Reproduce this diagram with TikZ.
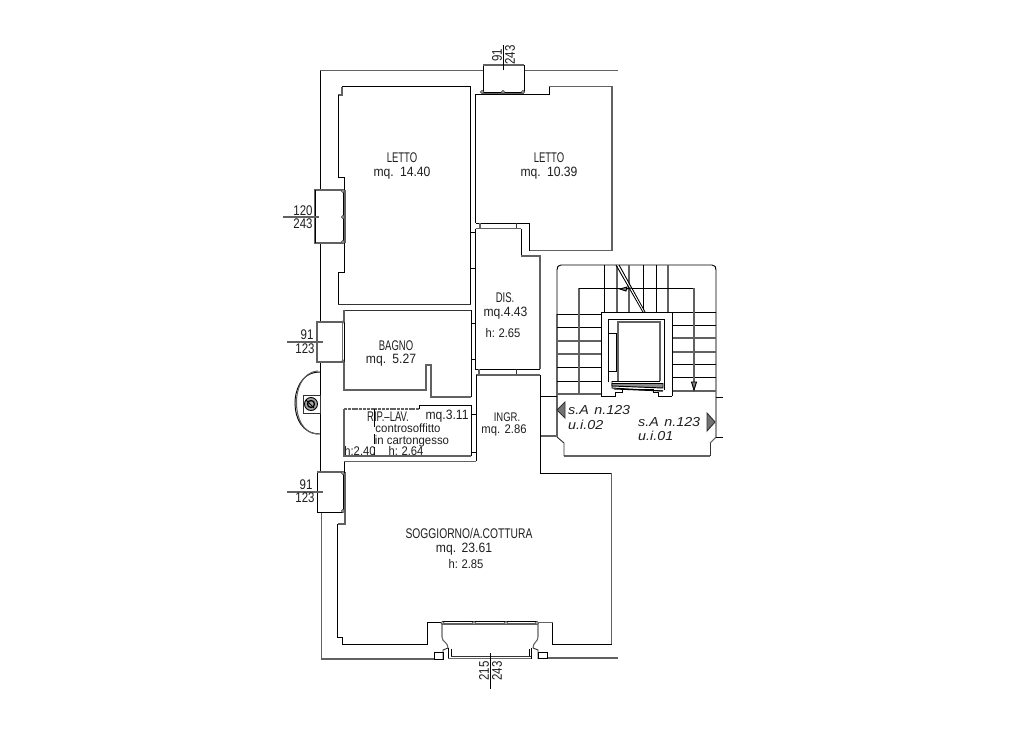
\documentclass[tikz,border=0pt]{standalone}
\usepackage{fontspec}
\setmainfont{Liberation Sans}
\tikzset{
  x=1pt,y=-1pt,
  wk/.style={draw=black,line width=.95pt,line join=miter},
  wg/.style={draw=black!62,line width=1.05pt,line join=miter},
  wm/.style={draw=black!80,line width=.95pt,line join=miter},
  thick wg/.style={draw=black!58,line width=1.9pt},
  hinge/.style={draw=black!70,fill=black!25,line width=.6pt},
  lab/.style={inner sep=0pt,text=black!88,font=\fontsize{14}{14}\selectfont,transform shape,xscale=.68},
  labi2/.style={inner sep=0pt,text=black!88,font=\fontsize{12.5}{12.5}\selectfont,transform shape,xscale=.76},
  labn/.style={inner sep=0pt,text=black!88,font=\fontsize{13.5}{13.5}\selectfont,transform shape,xscale=.9},
  labs/.style={inner sep=0pt,text=black!88,font=\fontsize{12.5}{12.5}\selectfont,transform shape,xscale=.9},
  labc/.style={inner sep=0pt,text=black!88,font=\fontsize{12}{12}\selectfont,transform shape,xscale=.95},
  labi/.style={inner sep=0pt,text=black!88,font=\fontsize{13}{13}\selectfont\itshape,transform shape,xscale=1.1,anchor=west},
  dimv/.style={inner sep=0pt,text=black!88,font=\fontsize{14}{14}\selectfont,transform shape,xscale=.82},
  dimr/.style={inner sep=0pt,text=black!88,font=\fontsize{14}{14}\selectfont,transform shape,rotate=90,xscale=.82},
}
\begin{document}
\begin{tikzpicture}
\useasboundingbox (0,0) rectangle (1030,736);
% outer walls
\draw[wg] (320,70.5) -- (483,70.5);
\draw[wg] (524,70.5) -- (618,70.5);
\draw[wk] (320,70.5) -- (320,190);
\draw[wk] (320,243) -- (320,322);
\draw[wk] (320.5,362) -- (320.5,472);
\draw[wg] (321.5,512) -- (321.5,659) -- (434,659);
\draw[wg] (547,658) -- (618,658);
% top window
\draw[wk] (483,92) -- (483,65) -- (524,65) -- (524,92);
\draw[wg] (483,65) -- (524,65);
\draw[wk] (482,92) -- (524,92);
\draw[wg] (482,93.5) -- (524,93.5);
\foreach \p in {(482,92),(503,92),(523,92)} \draw[hinge] \p circle (1.6);
% left windows
\draw[wg] (343,190) -- (315,190) -- (315,243) -- (343,243);
\draw[wk] (315.5,190) -- (315.5,243);
\draw[wk] (343,190) -- (343,243);
\draw[wg] (345,190) -- (345,243);
\foreach \p in {(343,191),(343,217),(343,242)} \draw[hinge] \p circle (1.6);
\draw[wg] (343,322) -- (317,322) -- (317,362) -- (343,362);
\draw[thick wg] (342.5,322) -- (342.5,362);
\draw[wk] (344.5,322) -- (344.5,362);
\foreach \p in {(343,322),(343,361)} \draw[hinge] \p circle (1.3);
\draw[wk] (343,472) -- (317,472) -- (317,512) -- (343,512);
\draw[wg] (317,472) -- (343,472);
\draw[wk] (343,472) -- (343,512);
\draw[wg] (345,472) -- (345,512);
\foreach \p in {(343,473),(343,511)} \draw[hinge] \p circle (1.6);
% LETTO 1
\draw[wk] (470.5,304) -- (470.5,86.5) -- (342,86.5);
\draw[wg] (342,86.5) -- (342,95) -- (338,95);
\draw[wk] (338,95) -- (338,177) -- (344,177) -- (344,190);
\draw[wk] (344,243) -- (344,272) -- (338,272) -- (338,304);
\draw[wm] (338,304) -- (470.5,304);
% LETTO 2
\draw[wk] (475.5,223) -- (475.5,94) -- (549,94) -- (549,86.5);
\draw[wg] (549,86.5) -- (612,86.5) -- (612,250.5) -- (529,250.5);
\draw[wk] (529,250.5) -- (529,223) -- (475.5,223);
\draw[wg] (480,223) -- (480,228);
\draw[wm] (516,223) -- (516,228);
% DIS
\draw[wg] (475.5,228.5) -- (521,228.5);
\draw[wk] (475.5,228.5) -- (475.5,369) -- (540,369);
\draw[wk] (521,228.5) -- (521,256);
\draw[wg] (521,256) -- (540,256) -- (540,369);
% door ticks
\foreach \y in {232,268,323,359,414,452} \draw[wk] (470.5,\y) -- (475.5,\y);
\draw[wg] (479,369) -- (479,375);
\draw[wm] (516,369) -- (516,375);
% BAGNO
\draw[wm] (344,310) -- (471,310);
\draw[wk] (471,310) -- (471,397);
\draw[wg] (471,397) -- (431,397) -- (431,365) -- (426,365) -- (426,390) -- (344,390) -- (344,362);
\draw[wg] (344,310) -- (344,322);
% RIP
\draw[wg,dash pattern=on 3pt off .8pt] (344,409) -- (419,409);
\draw[wk] (419,409) -- (419,405) -- (471,405);
\draw[wk] (471,405) -- (471,456);
\draw[wg] (471,456) -- (344,456) -- (344,409);
% INGR / SOGGIORNO
\draw[wg] (476,375) -- (540,375);
\draw[wk] (540,375) -- (540,473) -- (611.5,473);
\draw[wk] (476,375) -- (476,461);
\draw[wg] (476,461.5) -- (344,461.5);
\draw[wk] (344,461.5) -- (344,473);
\draw[wg] (611.5,473) -- (611.5,644);
\draw[wk] (611.5,644) -- (552.5,644) -- (552.5,622.5);
\draw[wg] (552.5,622.5) -- (537,622.5);
\draw[wk] (442,622.5) -- (427.5,622.5) -- (427.5,644) -- (342,644) -- (342,637) -- (337.5,637) -- (337.5,524);
\draw[wg] (337.5,524) -- (345,524) -- (345,512);
% balcony
\draw[wk] (442,621.5) -- (537,621.5);
\draw[wg] (442,624) -- (537,624);
\foreach \p in {(442.5,623),(474,623),(506,623),(537,623)} \draw[hinge] \p circle (1.8);
\draw[wg] (442,623) -- (442,637) .. controls (442,642) and (448,642) .. (448,648);
\draw[wm] (448,648) -- (443,650) -- (443,659);
\draw[wk] (434,652) rectangle (443,659);
\draw[wk] (448,648) -- (448,659);
\draw[wk] (451,649) -- (451,656);
\draw[thick wg] (448,658.5) -- (531,658.5);
\draw[wm] (451,656) -- (531,656);
\draw[wg] (538,623) -- (538,637) .. controls (538,642) and (533,642) .. (533,648);
\draw[wm] (533,648) -- (538,650) -- (538,659);
\draw[wk] (538,652) rectangle (547,658);
\draw[wk] (531,648) -- (531,659);
\draw[wk] (529,649) -- (529,656);
% chimney niche
\draw[wk] (320,372) .. controls (300,372) and (295,392) .. (295,403) .. controls (295,418) and (302,434) .. (320,434);
\draw[wg] (318,371) .. controls (301,372) and (296,392) .. (296.5,403) .. controls (296.5,418) and (303,433) .. (317,434);
\draw[wm] (303,395) rectangle (320,413);
\draw[wk,fill=black!35] (311,404) circle (6.5);
\draw[wk,line width=1.3pt] (311,404) circle (3.5);
\draw[wk] (306,400) -- (314,408);
% stair outline
\draw[wk] (557,314) -- (557,270) .. controls (557,267) and (558,265) .. (561,265) -- (712,265) .. controls (715,265) and (716,267) .. (716,270) -- (716,312);
\draw[wg] (716,312) -- (716,437) -- (710,443);
\draw[wm] (710,443) -- (710,456);
\draw[wg] (710,456) -- (564,456);
\draw[wm] (564,456) -- (564,443) -- (557,437);
\draw[wg] (557,314) -- (557,437);
% stairs - landing walls
\draw[wk] (541,396) -- (557,396);
\draw[wg] (541,436) -- (557,436);
\draw[wk] (716,397) -- (723,397);
\draw[wk] (716,437) -- (723,437);
\draw[wg] (557,394) -- (601,394);
\draw[wg] (672,391) -- (716,391);
% treads left
\foreach \y/\s in {314/wk,327/wk,341/wg,354/wg,367/wk,381/wk} \draw[\s] (557,\y) -- (601,\y);
% treads right
\foreach \y/\s in {312/wk,325/wk,338/wg,352/wg,364/wk,377/wk} \draw[\s] (672,\y) -- (716,\y);
% treads top
\foreach \x/\s in {604/wk,617/wg,629/wg,643/wk,656/wk,668/wg} \draw[\s] (\x,265) -- (\x,312);
% handrail
\draw[wg] (579,394) -- (579,288);
\draw[wk] (579,288) -- (694,288);
\draw[wg] (694,288) -- (694,391);
% break line
\draw[wk] (616,265) -- (643,312);
\draw[wk] (619,265) -- (645,312);
\draw[draw=white,line width=.6pt] (617.5,265) -- (644,312);
% arrows
\draw[wk,fill=black!50] (620,289) -- (627,287) -- (626,291) -- cycle;
\draw[wk] (627,289) -- (631,288);
\draw[wk,fill=black!50] (694,390) -- (691.5,382) -- (696.5,382) -- cycle;
% triangles
\draw[wm,fill=black!55] (557,410) -- (565,402) -- (565,418) -- cycle;
\draw[wm,fill=black!55] (715,422) -- (707,413) -- (707,431) -- cycle;
% elevator
\draw[wk] (601,396) -- (601,312) -- (672,312) -- (672,396);
\draw[fill=white,wk] (601,396) -- (615,396) -- (615,392) -- (622,392) -- (622,389) -- (653,389) -- (653,392) -- (658,392) -- (658,396) -- (672,396);
\draw[wk] (608,382) -- (608,319) -- (664,319) -- (664,390);
\draw[wg] (618,381) -- (618,322) -- (660,322) -- (660,381);
\draw[wk] (612,381) -- (660,381);
\draw[wk] (608,333) -- (616,333) -- (616,371) -- (608,371);
\draw[wk] (612,381) -- (612,388) -- (663,391);
\draw[wk,fill=black!45] (612,383.5) -- (663,383.5) -- (663,388) -- (612,386) -- cycle;
\draw[wk] (614,389) -- (663,391);
% partition ticks in RIP
\draw[wk] (374,409) -- (374,427);
\draw[wk] (374,434) -- (374,444);
\draw[wk] (374,447) -- (374,455);
% dimension lines
\coordinate (dt1) at (503,45); \coordinate (dt2) at (503,70);
\draw[wk,line width=.8pt] (dt1) -- (dt2);
\draw[wg] (283,217) -- (319,217);
\draw[wg] (287,342) -- (323,342);
\draw[wg] (287,492) -- (323,492);
\draw[wk,line width=.8pt] (490,653) -- (490,689);
% texts
\node[lab] (letto1) at (402,158) {LETTO};
\node[labn] (mq1) at (402,173) {mq.\hspace{7pt}14.40};
\node[lab] (letto2) at (549,158) {LETTO};
\node[labn] (mq2) at (549,173) {mq.\hspace{7pt}10.39};
\node[lab] (dis) at (505,298) {DIS.};
\node[labn] (mqd) at (505.5,313) {mq.4.43};
\node[labs] (hd) at (503,333) {h:\hspace{4pt}2.65};
\node[lab] (bagno) at (396,346) {BAGNO};
\node[labn] (mqb) at (391,360) {mq.\hspace{7pt}5.27};
\node[lab] (rip) at (388,417) {RIP.--LAV.};
\node[labn] (mqr) at (447,416) {mq.3.11};
\node[labc] (cs) at (408,428.5) {controsoffitto};
\node[labc] (ci) at (412,441.5) {in cartongesso};
\node[labs] (h24) at (360,451.5) {h:2.40};
\node[labs] (h26) at (406,451.5) {h:\hspace{4pt}2.64};
\node[labi2] (ingr) at (507,417) {INGR.};
\node[labs] (mqi) at (504,430) {mq.\hspace{5pt}2.86};
\node[lab,xscale=1.08] (sog) at (469,533) {SOGGIORNO/A.COTTURA};
\node[labn] (mqs) at (464,549) {mq.\hspace{6pt}23.61};
\node[labs] (hs) at (466,564) {h:\hspace{4pt}2.85};
\node[labi] (sa2) at (568,410) {s.A\hspace{5pt}n.123};
\node[labi] (ui2) at (568,425) {u.i.02};
\node[labi] (sa1) at (638,422) {s.A\hspace{5pt}n.123};
\node[labi] (ui1) at (638,436) {u.i.01};
\node[dimv] (d120) at (303,211) {120};
\node[dimv] (d243a) at (303,224) {243};
\node[dimv] (d91a) at (307,335) {91};
\node[dimv] (d123a) at (305,349) {123};
\node[dimv] (d91b) at (306,485) {91};
\node[dimv] (d123b) at (305,498) {123};
\node[dimr] (d91t) at (497,55) {91};
\node[dimr] (d243t) at (510,55) {243};
\node[dimr] (d215) at (484,671) {215};
\node[dimr] (d243b) at (497,671) {243};
\end{tikzpicture}
\end{document}
